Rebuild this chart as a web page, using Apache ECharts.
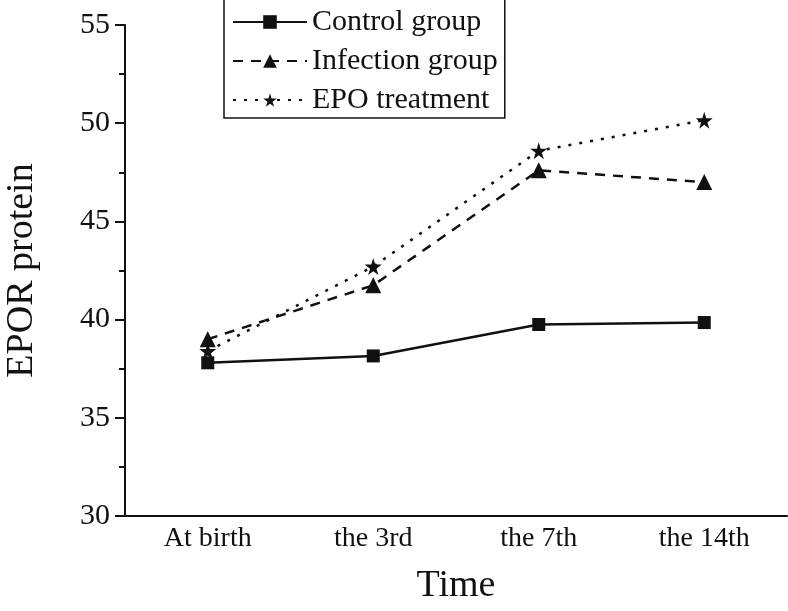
<!DOCTYPE html>
<html><head><meta charset="utf-8">
<script src="https://cdn.jsdelivr.net/npm/echarts@6/dist/echarts.min.js"></script>
<style>html,body{margin:0;padding:0;background:#fff}#c{width:788px;height:611px}</style>
</head><body><div id="c"></div>
<script>
const categories = ['At birth', 'the 3rd', 'the 7th', 'the 14th'];
const controlGroup = [37.8, 38.15, 39.75, 39.85];
const infectionGroup = [39.0, 41.75, 47.6, 47.0];
const epoTreatment = [38.4, 42.7, 48.6, 50.15];
const seriesNames = ['Control group', 'Infection group', 'EPO treatment'];

const FONT = '"Liberation Serif", "Times New Roman", serif';
const STAR = 'path://M50,0 L61,35 L98,35 L68,57 L79,91 L50,70 L21,91 L32,57 L2,35 L39,35 Z';
const chart = echarts.init(document.getElementById('c'));
const black = '#111';
chart.setOption({
  animation: false,
  backgroundColor: '#fff',
  textStyle: { fontFamily: FONT, color: black },
  grid: { left: 125, right: 1, top: 25, bottom: 95, containLabel: false, outerBoundsMode: 'none' },
  legend: {
    orient: 'vertical', left: 224, top: -1,
    padding: [8, 7, 3, 8], itemGap: 9,
    itemWidth: 74, itemHeight: 17,
    borderColor: black, borderWidth: 1.5,
    textStyle: { fontFamily: FONT, fontSize: 30, color: black },
    data: seriesNames
  },
  xAxis: [{
    type: 'category', data: categories, boundaryGap: true,
    axisLine: { lineStyle: { color: black, width: 2 } },
    axisTick: { alignWithLabel: true, length: 9, lineStyle: { color: black, width: 2 } },
    axisLabel: { fontFamily: FONT, fontSize: 28, color: black, margin: 9 },
    name: 'Time', nameLocation: 'middle', nameGap: 51,
    nameTextStyle: { fontFamily: FONT, fontSize: 38, color: black },
    splitLine: { show: false }
  }, {
    type: 'category', data: categories, boundaryGap: true, position: 'bottom',
    axisLine: { show: false },
    axisTick: { alignWithLabel: false, length: 5, lineStyle: { color: black, width: 2 } },
    axisLabel: { show: false }, splitLine: { show: false }
  }],
  yAxis: {
    type: 'value', min: 30, max: 55, interval: 5,
    axisLine: { show: true, lineStyle: { color: black, width: 2 } },
    axisTick: { show: true, length: 10, lineStyle: { color: black, width: 2 } },
    minorTick: { show: true, splitNumber: 2, length: 6, lineStyle: { color: black, width: 2 } },
    axisLabel: { fontFamily: FONT, fontSize: 30, color: black, margin: 15 },
    splitLine: { show: false },
    name: 'EPOR protein', nameLocation: 'middle', nameGap: 84,
    nameTextStyle: { fontFamily: FONT, fontSize: 38, color: black }
  },
  series: [{
    name: seriesNames[0], type: 'line', data: controlGroup,
    symbol: 'rect', symbolSize: 13,
    lineStyle: { color: black, width: 2.5, type: 'solid' },
    itemStyle: { color: black }
  }, {
    name: seriesNames[1], type: 'line', data: infectionGroup,
    symbol: 'triangle', symbolSize: 16,
    lineStyle: { color: black, width: 2.5, type: [10, 8] },
    itemStyle: { color: black }
  }, {
    name: seriesNames[2], type: 'line', data: epoTreatment,
    symbol: STAR, symbolSize: 17,
    lineStyle: { color: black, width: 2.5, type: [3, 8] },
    itemStyle: { color: black }
  }]
});
</script></body></html>
